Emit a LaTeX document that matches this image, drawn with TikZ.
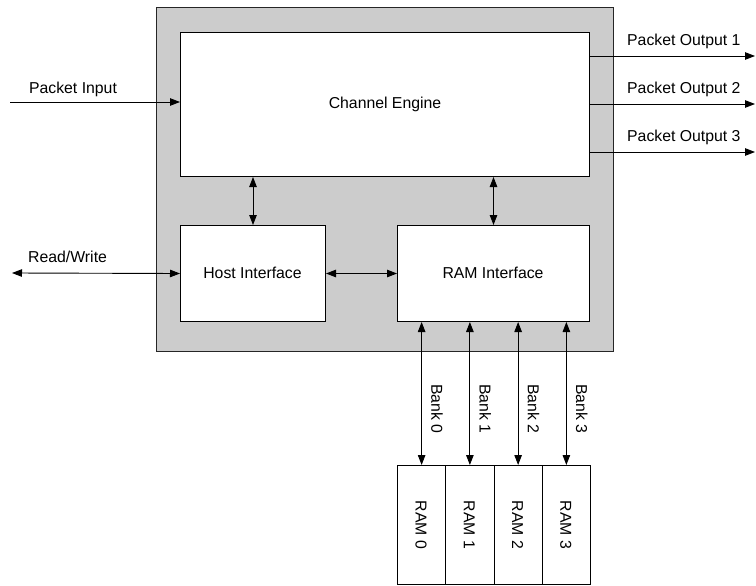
\documentclass[tikz,border=0pt]{standalone}
\usepackage{fontspec}
\setmainfont{Liberation Sans}
\usetikzlibrary{arrows.meta}
\begin{document}
\begin{tikzpicture}[x=1pt,y=-1pt,
  every node/.style={font=\fontsize{15.8}{18}\selectfont},
  blk/.style={draw=black,line width=1pt,fill=white,inner sep=0pt,anchor=north west},
  arr/.style={line width=0.9pt,-{Triangle[length=10pt,width=7.5pt]}},
  darr/.style={line width=0.9pt,{Triangle[length=10pt,width=7.5pt]}-{Triangle[length=10pt,width=7.5pt]}},
  lbl/.style={inner sep=0pt}]
\useasboundingbox (0,0) rectangle (756,586);
% outer chip
\node[blk,fill=black!20,draw=black!85,minimum width=457pt,minimum height=344pt] (chip) at (156,7) {};
% inner blocks
\node[blk,minimum width=409pt,minimum height=144pt] (ce) at (180,32) {};
\node[lbl] (cet) at (385,104) {Channel Engine};
\node[blk,minimum width=145pt,minimum height=96pt] (hi) at (180,225) {};
\node[lbl] (hit) at (252.5,273) {Host Interface};
\node[blk,minimum width=192pt,minimum height=96pt] (ri) at (397,225) {};
\node[lbl] (rit) at (493,273) {RAM Interface};
% RAM banks
\foreach \i in {0,1,2,3}{
  \node[blk,minimum width=48.25pt,minimum height=119pt] (ram\i) at ({397+48.25*\i},465) {};
  \node[lbl,rotate=-90] (ramt\i) at ({421.1+48.25*\i},525) {RAM \i};
  \draw[darr] (ram\i.north) -- (ram\i.north |- ri.south);
  \node[lbl,rotate=-90] (bank\i) at ({437+48.25*\i},409) {Bank \i};
}
% internal connectors
\draw[darr] (hi.north) -- (hi.north |- ce.south);
\draw[darr] (ri.north) -- (ri.north |- ce.south);
\draw[darr] (hi.east) -- (ri.west);
% external ports
\coordinate (pin) at (10,102);
\draw[arr] (pin) -- (pin -| ce.west);
\node[lbl] (pint) at (73,89) {Packet Input};
\coordinate (rw) at (12,273);
\draw[darr] (rw) -- (hi.west);
\node[lbl,anchor=west] (rwt) at (28,257) {Read/Write};
\foreach \i/\y in {1/56,2/104,3/152}{
  \coordinate (o\i) at (755,\y);
  \draw[arr] (o\i -| ce.east) -- (o\i);
  \node[lbl,anchor=west] (ot\i) at (627,{\y-15}) {Packet Output \i};
}
\end{tikzpicture}
\end{document}
